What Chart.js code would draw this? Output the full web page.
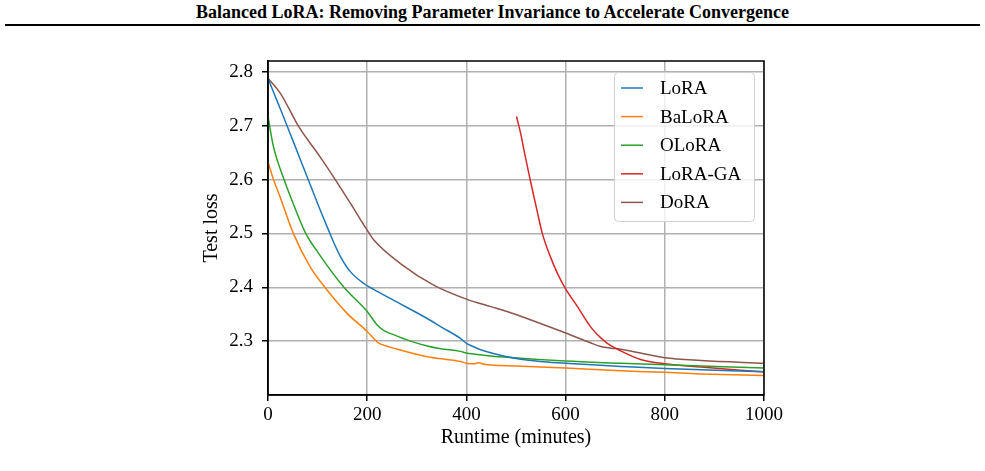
<!DOCTYPE html>
<html>
<head>
<meta charset="utf-8">
<script src="https://cdn.jsdelivr.net/npm/chart.js@4.4.1/dist/chart.umd.min.js"></script>
<style>
  html, body { margin: 0; padding: 0; background: #fff; }
  body { width: 985px; height: 471px; position: relative; overflow: hidden; font-family: "Liberation Serif", serif; }
  #header { position: absolute; left: 0; top: 2px; width: 985px; text-align: center; font-weight: bold; font-size: 18px; color: #000; }
  #rule { position: absolute; left: 5px; top: 24px; width: 975px; height: 2px; background: #000; }
  #wrap { position: absolute; left: 0; top: 0; width: 985px; height: 471px; }
</style>
</head>
<body>
<div id="header">Balanced LoRA: Removing Parameter Invariance to Accelerate Convergence</div>
<div id="rule"></div>
<div id="wrap"><canvas id="loss-chart" width="985" height="471"></canvas></div>
<script>
// values (runtime in minutes, test loss)
const loraX = [0, 12, 25, 52, 81, 105, 122, 135, 146, 166, 193, 213, 253, 321, 348, 388, 400, 411, 435, 482, 549, 600, 671, 711, 800, 1000];
const loraY = [2.788, 2.760, 2.731, 2.668, 2.600, 2.544, 2.506, 2.478, 2.457, 2.429, 2.407, 2.396, 2.376, 2.342, 2.327, 2.305, 2.296, 2.291, 2.282, 2.271, 2.262, 2.259, 2.255, 2.253, 2.249, 2.243];

const baloraX = [0, 10, 25, 51, 85, 119, 159, 200, 222, 235, 253, 321, 388, 400, 415, 425, 435, 500, 600, 711, 800, 873, 1000];
const baloraY = [2.633, 2.603, 2.566, 2.500, 2.438, 2.395, 2.352, 2.318, 2.297, 2.292, 2.287, 2.271, 2.262, 2.259, 2.258, 2.260, 2.257, 2.254, 2.250, 2.245, 2.242, 2.239, 2.236];

const oloraX = [0, 11, 32, 48, 75, 102, 153, 200, 220, 233, 253, 287, 321, 348, 388, 400, 435, 482, 600, 711, 800, 1000];
const oloraY = [2.717, 2.661, 2.601, 2.562, 2.502, 2.463, 2.400, 2.355, 2.330, 2.320, 2.312, 2.300, 2.291, 2.286, 2.281, 2.278, 2.274, 2.270, 2.263, 2.259, 2.256, 2.250];

const loragaX = [501, 510, 516, 525, 533, 543, 553, 570, 585, 600, 624, 650, 671, 684, 711, 751, 800, 873, 940, 1000];
const loragaY = [2.717, 2.683, 2.655, 2.615, 2.581, 2.540, 2.500, 2.455, 2.423, 2.397, 2.364, 2.327, 2.306, 2.296, 2.282, 2.266, 2.258, 2.252, 2.247, 2.243];

const doraX = [0, 25, 62, 105, 132, 166, 200, 213, 267, 334, 400, 449, 482, 600, 650, 671, 691, 711, 800, 873, 1000];
const doraY = [2.788, 2.760, 2.698, 2.642, 2.605, 2.556, 2.506, 2.488, 2.444, 2.404, 2.378, 2.364, 2.355, 2.315, 2.297, 2.290, 2.287, 2.285, 2.269, 2.264, 2.259];

const seriesNames = ["LoRA", "BaLoRA", "OLoRA", "LoRA-GA", "DoRA"];
const seriesColors = ["#1f77b4", "#ff7f0e", "#2ca02c", "#d62728", "#8c564b"];

const xTicks = [0, 200, 400, 600, 800, 1000];
const yTicks = [2.3, 2.4, 2.5, 2.6, 2.7, 2.8];

const serif = "'Liberation Serif', 'Times New Roman', serif";

function toPoints(xs, ys) {
    return xs.map((x, i) => ({ x: x, y: ys[i] }));
}

const allSeries = [
    toPoints(loraX, loraY),
    toPoints(baloraX, baloraY),
    toPoints(oloraX, oloraY),
    toPoints(loragaX, loragaY),
    toPoints(doraX, doraY),
];

// top + right spines, like a matplotlib axes box
const frameBox = {
    id: "frameBox",
    afterDatasetsDraw(chart) {
        const { ctx, chartArea: a } = chart;
        ctx.save();
        ctx.strokeStyle = "#000";
        ctx.lineWidth = 1.5;
        ctx.strokeRect(a.left, a.top, a.right - a.left, a.bottom - a.top);
        ctx.restore();
    }
};

// legend box in the upper right corner of the plot
const cornerLegend = {
    id: "cornerLegend",
    afterDraw(chart) {
        const { ctx, chartArea: a } = chart;
        const boxW = 140, boxH = 149;
        const left = a.right - 10 - boxW;
        const top = a.top + 11;
        ctx.save();
        ctx.fillStyle = "rgba(255,255,255,0.8)";
        ctx.strokeStyle = "#d0d0d0";
        ctx.lineWidth = 1;
        ctx.beginPath();
        ctx.roundRect(left + 0.5, top + 0.5, boxW, boxH, 4);
        ctx.fill();
        ctx.stroke();
        ctx.font = "19px " + serif;
        ctx.textBaseline = "middle";
        ctx.fillStyle = "#000";
        chart.data.datasets.forEach((ds, i) => {
            const y = top + 16 + i * 28.6;
            ctx.strokeStyle = ds.borderColor;
            ctx.lineWidth = 1.5;
            ctx.beginPath();
            ctx.moveTo(left + 7, y);
            ctx.lineTo(left + 29, y);
            ctx.stroke();
            ctx.fillText(ds.label, left + 46, y + 1);
        });
        ctx.restore();
    }
};

const ctx = document.getElementById("loss-chart").getContext("2d");
const lossChart = new Chart(ctx, {
    type: "line",
    data: {
        datasets: seriesNames.map((name, i) => ({
            label: name,
            data: allSeries[i],
            borderColor: seriesColors[i],
            backgroundColor: seriesColors[i],
            borderWidth: 1.5,
            pointRadius: 0,
            fill: false,
            cubicInterpolationMode: "monotone",
        })),
    },
    options: {
        responsive: false,
        animation: false,
        devicePixelRatio: 1,
        layout: { padding: { left: 200, top: 61, right: 221, bottom: 21 } },
        plugins: {
            legend: { display: false },
            tooltip: { enabled: false },
        },
        scales: {
            x: {
                type: "linear",
                min: 0,
                max: 1000,
                afterBuildTicks: (s) => { s.ticks = xTicks.map((v) => ({ value: v })); },
                afterFit: (s) => { s.height = 55; },
                ticks: {
                    font: { family: serif, size: 19 },
                    color: "#000",
                    padding: 3,
                    maxRotation: 0,
                    autoSkip: false,
                    callback: (v) => String(v),
                },
                grid: { color: "#b0b0b0", lineWidth: 1.5, tickColor: "#000", tickLength: 6, tickWidth: 1.5 },
                border: { color: "#000", width: 1.5 },
                title: { display: true, text: "Runtime (minutes)", color: "#000", font: { family: serif, size: 20 }, padding: 0 },
            },
            y: {
                type: "linear",
                min: 2.2,
                max: 2.82,
                afterBuildTicks: (s) => { s.ticks = yTicks.map((v) => ({ value: v })); },
                afterFit: (s) => { s.width = 68; },
                ticks: {
                    font: { family: serif, size: 19 },
                    color: "#000",
                    padding: 9,
                    callback: (v) => v.toFixed(1),
                },
                grid: { color: "#b0b0b0", lineWidth: 1.5, tickColor: "#000", tickLength: 6, tickWidth: 1.5 },
                border: { color: "#000", width: 1.5 },
                title: { display: true, text: "Test loss", color: "#000", font: { family: serif, size: 20 }, padding: 0 },
            },
        },
    },
    plugins: [frameBox, cornerLegend],
});
</script>
</body>
</html>
